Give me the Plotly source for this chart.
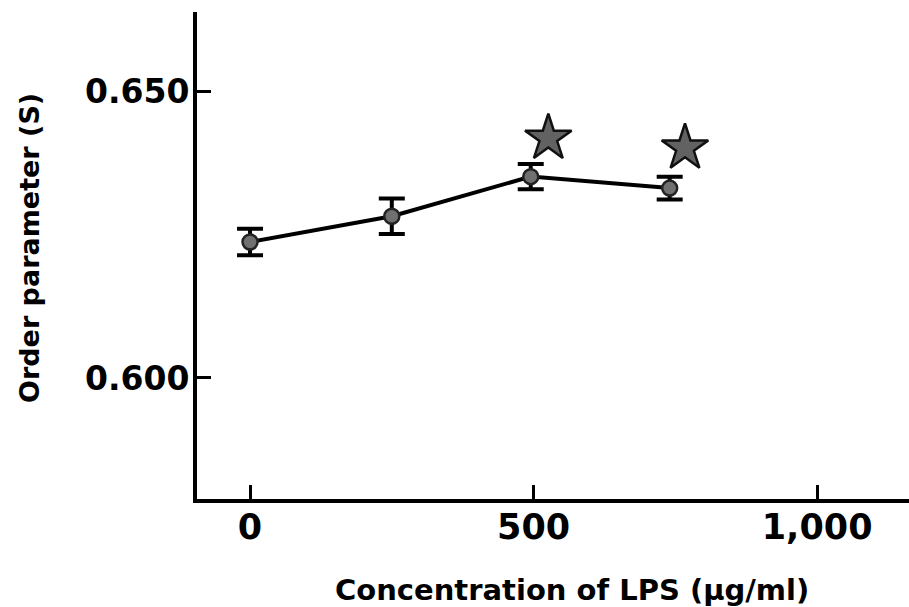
import plotly.graph_objects as go

# Data
conc = [0, 250, 495, 740]
order_s = [0.6237, 0.6282, 0.6351, 0.6331]
order_err = [0.0023, 0.0031, 0.0022, 0.0020]

star_x = [526, 767]
star_y = [0.6418, 0.6401]

x_ticks = [0, 500, 1000]
x_tick_labels = ["0", "500", "1,000"]
y_ticks = [0.600, 0.650]
y_tick_labels = ["0.600", "0.650"]

FONT = "DejaVu Sans"

fig = go.Figure()
fig.add_trace(go.Scatter(
    x=conc, y=order_s, mode="lines+markers",
    line=dict(color="black", width=4),
    marker=dict(size=15, color="#707070", line=dict(color="#222222", width=2.5)),
    error_y=dict(type="data", array=order_err, visible=True,
                 color="black", thickness=4, width=13),
    showlegend=False,
))
fig.add_trace(go.Scatter(
    x=star_x, y=star_y, mode="markers",
    marker=dict(symbol="star", size=35, color="#626262",
                line=dict(color="#111111", width=2.5)),
    showlegend=False,
))

fig.update_layout(
    width=909, height=607,
    margin=dict(l=197, r=0, t=12, b=108),
    paper_bgcolor="white", plot_bgcolor="white",
    font=dict(family=FONT, color="black"),
    xaxis=dict(
        range=[-93.5, 1162], showgrid=False, zeroline=False,
        showline=True, linecolor="black", linewidth=4,
        ticks="inside", ticklen=14, tickwidth=2.5, tickcolor="black",
        tickvals=x_ticks, ticktext=x_tick_labels,
        tickfont=dict(family=FONT, size=35, weight="bold"),
        ticklabelstandoff=-6,
    ),
    yaxis=dict(
        range=[0.5789, 0.6638], showgrid=False, zeroline=False,
        showline=True, linecolor="black", linewidth=4,
        ticks="inside", ticklen=14, tickwidth=2.5, tickcolor="black",
        tickvals=y_ticks, ticktext=y_tick_labels,
        tickfont=dict(family=FONT, size=33, weight="bold"),
        ticklabelstandoff=-3,
    ),
    annotations=[
        dict(text="<b>Order parameter (S)</b>", xref="paper", yref="paper",
             x=(30 - 197) / 712, y=(499 - 248) / 487, textangle=-90,
             showarrow=False, xanchor="center", yanchor="middle",
             font=dict(family=FONT, size=27, color="black")),
        dict(text="<b>Concentration of LPS (μg/ml)</b>", xref="paper", yref="paper",
             x=(572 - 197) / 712, y=(499 - 590) / 487,
             showarrow=False, xanchor="center", yanchor="middle",
             font=dict(family=FONT, size=29, color="black")),
    ],
)

fig.write_html("out.html")
